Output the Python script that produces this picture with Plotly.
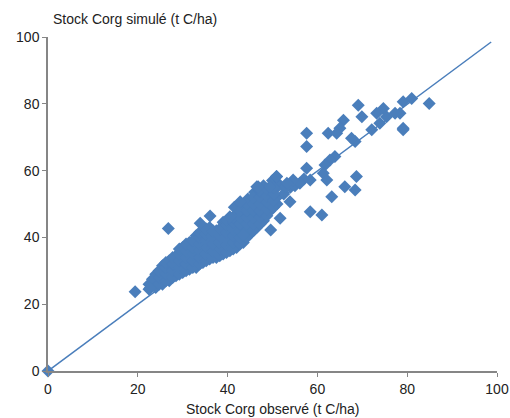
import plotly.graph_objects as go

# Dense cluster (observed, simulated)
obs_cluster = [
    22.5, 22.5,
    24, 24, 24,
    25.5, 25.5, 25.5, 25.5,
    27, 27, 27, 27,
    28.5, 28.5, 28.5, 28.5,
    30, 30, 30, 30, 30,
    31.5, 31.5, 31.5, 31.5, 31.5,
    33, 33, 33, 33, 33, 33,
    34.5, 34.5, 34.5, 34.5, 34.5, 34.5,
    36, 36, 36, 36, 36, 36,
    37.5, 37.5, 37.5, 37.5, 37.5,
    39, 39, 39, 39, 39, 39,
    40.5, 40.5, 40.5, 40.5, 40.5, 40.5,
    42, 42, 42, 42, 42, 42,
    43.5, 43.5, 43.5, 43.5, 43.5, 43.5,
    45, 45, 45, 45, 45, 45,
    46.5, 46.5, 46.5, 46.5, 46.5, 46.5,
    48, 48, 48, 48, 48,
    49.5, 49.5, 49.5, 49.5,
    51, 51, 51, 51,
    52.5, 52.5,
    54, 54,
    41.5, 43, 44.5, 46, 48, 50, 53, 55, 57,
    23.25, 23.25,
    24.75, 24.75, 24.75,
    26.25, 26.25, 26.25, 26.25,
    27.75, 27.75, 27.75, 27.75,
    29.25, 29.25, 29.25, 29.25, 29.25,
    30.75, 30.75, 30.75, 30.75, 30.75,
    32.25, 32.25, 32.25, 32.25, 32.25,
    33.75, 33.75, 33.75, 33.75, 33.75, 33.75,
    35.25, 35.25, 35.25, 35.25, 35.25, 35.25,
    36.75, 36.75, 36.75, 36.75, 36.75,
    38.25, 38.25, 38.25, 38.25, 38.25,
    39.75, 39.75, 39.75, 39.75, 39.75, 39.75,
    41.25, 41.25, 41.25, 41.25, 41.25, 41.25,
    42.75, 42.75, 42.75, 42.75, 42.75, 42.75,
    44.25, 44.25, 44.25, 44.25, 44.25, 44.25,
    45.75, 45.75, 45.75, 45.75, 45.75, 45.75,
    47.25, 47.25, 47.25, 47.25, 47.25, 47.25,
    48.75, 48.75, 48.75, 48.75, 48.75,
    50.25, 50.25, 50.25, 50.25,
]
sim_cluster = [
    24.5, 26,
    25, 27, 29,
    26, 28, 30, 31.5,
    27, 29, 31, 33,
    28.5, 30.5, 32.5, 34.5,
    29.5, 31.5, 33.5, 35.5, 37,
    30.5, 32.5, 34.5, 36.5, 38.5,
    31, 33, 35, 37, 39, 40.5,
    32.5, 34.5, 36.5, 38.5, 40.5, 42,
    33.5, 35.5, 37.5, 39.5, 41.5, 43,
    34, 36, 38, 40, 42,
    35, 37, 39, 41, 43, 44.5,
    36, 38, 40, 42, 44, 45.5,
    37, 39, 41, 43, 45, 47,
    38.5, 40.5, 42.5, 44.5, 46.5, 48.5,
    41, 43, 45, 47, 49, 51,
    43, 45, 47, 49, 51, 53,
    45, 47, 49, 51, 53,
    48, 50, 52, 54,
    50, 52, 55, 56.5,
    53, 55,
    55, 56,
    49, 50, 51.5, 53.5, 55.5, 57, 55, 55.5, 57.5,
    25.5, 27.5,
    26, 28, 30,
    27, 29, 31, 32.5,
    28, 30, 32, 34,
    29, 31, 33, 35, 36.5,
    30, 32, 34, 36, 38,
    31, 33, 35, 37, 39,
    32, 34, 36, 38, 40, 41.5,
    33, 35, 37, 39, 41, 42.5,
    34, 36, 38, 40, 42,
    34.5, 36.5, 38.5, 40.5, 42.5,
    35.5, 37.5, 39.5, 41.5, 43.5, 45,
    36.5, 38.5, 40.5, 42.5, 44.5, 46,
    38, 40, 42, 44, 46, 48,
    40, 42, 44, 46, 48, 50,
    42, 44, 46, 48, 50, 52,
    44, 46, 48, 50, 52, 54,
    46.5, 48.5, 50.5, 52.5, 54.5,
    49, 51, 53, 55,
]

# Scattered points
obs_outliers = [
    0, 19.4, 22.7, 26.8, 36.1, 40.5, 33.9, 51.7, 49.6, 53.9, 50.9, 46.5, 42.8, 43.5, 58.4,
    84.9, 81.0, 79.1, 79.1, 79.1, 78.4, 77.3, 75.4, 74.7, 73.2, 73.9, 72.1, 69.1, 69.9,
    68.4, 67.6, 65.8, 65.0, 62.4, 64.3, 57.6, 57.6, 63.9, 62.8, 61.7, 61.3, 57.6, 62.1,
    58.4, 56.1, 54.6, 53.2, 50.9, 68.7, 66.1, 68.4, 63.2, 61.0, 49.4, 46.8,
]
sim_outliers = [
    0, 23.7, 24.8, 42.7, 46.4, 46.2, 44.2, 45.7, 42.2, 50.7, 58.2, 55.2, 50.7, 40.7, 47.7,
    80.1, 81.6, 80.6, 72.7, 72.2, 77.2, 77.2, 76.1, 78.6, 77.2, 74.2, 72.2, 79.6, 76.1,
    68.7, 69.7, 75.1, 72.7, 71.2, 71.2, 71.2, 67.2, 64.2, 63.2, 61.7, 59.2, 60.7, 57.2,
    57.2, 56.2, 57.2, 56.2, 58.2, 58.2, 55.2, 54.2, 52.2, 46.7, 55.2, 55.2,
]

# Fitted line endpoints
fit_x = [0, 98.7]
fit_y = [0, 98.5]

x_ticks = [0, 20, 40, 60, 80, 100]
y_ticks = [0, 20, 40, 60, 80, 100]

blue = "#4a7ebb"
font_family = "Liberation Sans Narrow, Arial Narrow, Liberation Sans, Arial, sans-serif"

fig = go.Figure()
fig.add_trace(go.Scatter(x=fit_x, y=fit_y, mode="lines",
                         line=dict(color=blue, width=1.5), hoverinfo="skip"))
fig.add_trace(go.Scatter(x=obs_cluster + obs_outliers, y=sim_cluster + sim_outliers,
                         mode="markers",
                         marker=dict(symbol="diamond", size=10, color=blue,
                                     line=dict(width=0))))

axis_common = dict(
    showgrid=False, zeroline=False, showline=True, linecolor="#868686", linewidth=1.5,
    ticks="outside", ticklen=4, tickcolor="#868686", tickwidth=1, automargin=False,
    tickfont=dict(family=font_family, size=14, color="#222"),
)
fig.update_xaxes(range=[0, 100], tickvals=x_ticks, **axis_common)
fig.update_yaxes(range=[0, 100], tickvals=y_ticks, **axis_common)

fig.add_annotation(text="Stock Corg simulé (t C/ha)", xref="paper", yref="paper",
                   x=0.006, y=1.0, yshift=8, xanchor="left", yanchor="bottom",
                   showarrow=False, font=dict(family=font_family, size=14, color="#222"))
fig.add_annotation(text="Stock Corg observé (t C/ha)", xref="paper", yref="paper",
                   x=0.5, y=0, yshift=-28, xanchor="center", yanchor="top",
                   showarrow=False, font=dict(family=font_family, size=14, color="#222"))

fig.update_layout(
    width=510, height=418,
    margin=dict(l=48, r=13, t=37, b=47),
    paper_bgcolor="white", plot_bgcolor="white",
    showlegend=False,
)
fig.update_traces(cliponaxis=False)

fig.write_html(
    "out.html",
    config={"displayModeBar": False},
    post_script="document.body.style.margin='0';document.body.style.overflow='hidden';",
)
